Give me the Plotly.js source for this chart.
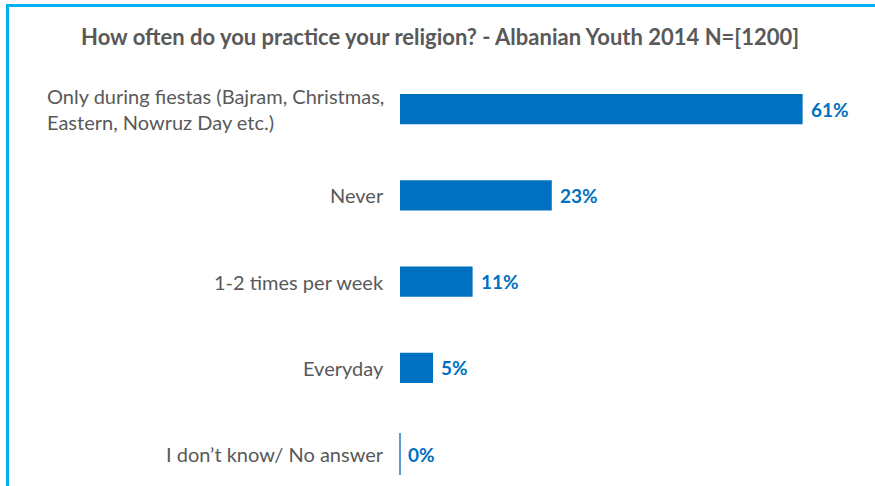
<!DOCTYPE html>
<html><head><meta charset="utf-8">
<script src="https://cdn.plot.ly/plotly-3.0.1.min.js"></script>
<style>
body{margin:0;padding:0;background:#fff;}
#wrap{position:relative;width:875px;height:486px;overflow:hidden;}
#chart{width:875px;height:486px;}
#frame{position:absolute;left:6px;top:4px;width:880px;height:500px;border-top:3px solid #00B0F0;border-left:3px solid #00B0F0;pointer-events:none;}
</style></head>
<body>
<div id="wrap"><div id="chart"></div><div id="frame"></div></div>
<script>
const categories = [
  "Only during fiestas (Bajram, Christmas,<br>Eastern, Nowruz Day etc.)",
  "Never",
  "1-2 times per week",
  "Everyday",
  "I don\u2019t know/ No answer"
];
const values = [61, 23, 11, 5, 0];
const valueLabels = values.map(v => v + "%");

const barColor = "#0070C0";
const font = "Lato, 'Open Sans', sans-serif";

const traces = [{
  type: "bar",
  orientation: "h",
  x: values,
  y: categories,
  width: 0.35,
  marker: {color: barColor},
  hoverinfo: "none"
}, {
  type: "scatter",
  mode: "markers",
  x: values.filter(v => v === 0),
  y: categories.filter((c, i) => values[i] === 0),
  marker: {symbol: "line-ns", size: 30, line: {color: "#5B9BD5", width: 2}},
  hoverinfo: "none",
  cliponaxis: false
}];

const annotations = [];
categories.forEach((c, i) => {
  annotations.push({
    x: 0, y: c, xref: "x", yref: "y", text: c, showarrow: false,
    xanchor: "right", yanchor: "middle", align: "left", xshift: -14,
    font: {family: font, size: 20, color: "#595959"}
  });
  annotations.push({
    x: values[i], y: c, xref: "x", yref: "y", text: "<b>" + valueLabels[i] + "</b>", showarrow: false,
    xanchor: "left", yanchor: "middle", xshift: 6,
    font: {family: font, size: 19, color: barColor}
  });
});

const layout = {
  width: 875, height: 486,
  margin: {l: 400, r: 12.5, t: 66, b: 0},
  paper_bgcolor: "#fff", plot_bgcolor: "#fff",
  showlegend: false,
  title: {text: "<b>How often do you practice your religion? - Albanian Youth 2014 N=[1200]</b>",
          x: 0.503, xanchor: "center", y: 0.924, yanchor: "middle",
          font: {family: font, size: 22, color: "#595959"}},
  xaxis: {range: [0, 70], visible: false, fixedrange: true},
  yaxis: {type: "category", range: [4.37, -0.5], showticklabels: false, showgrid: false,
          zeroline: false, showline: false, ticks: "", fixedrange: true},
  annotations: annotations
};

Plotly.newPlot("chart", traces, layout, {displayModeBar: false, staticPlot: true});
</script>
</body></html>
